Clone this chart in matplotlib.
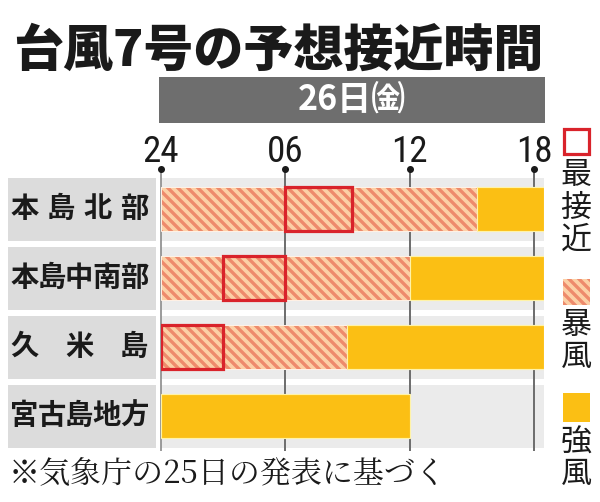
import matplotlib
matplotlib.use('Agg')
import matplotlib.pyplot as plt
from matplotlib.patches import Rectangle
import numpy as np

plt.rcParams['font.family'] = ['Noto Sans CJK JP', 'DejaVu Sans']
plt.rcParams['hatch.linewidth'] = 2.0

# ---- data (hours from 0:00 on the 26th) ----
regions = ['本島北部', '本島中南部', '久米島', '宮古島地方']
storm_end = [15.25, 12.0, 9.0, 0.0]          # 暴風 from 0 to this
strong_end = [18.5, 18.5, 18.5, 12.0]        # 強風 from storm_end to this
closest_start = [6.0, 3.0, 0.0, np.nan]      # 最接近 window
closest_end = [9.2, 6.0, 3.0, np.nan]
tick_hours = [0, 6, 12, 18]
tick_labels = ['24', '06', '12', '18']
x_max = 18.5

title = '台風7号の予想接近時間'
header = '26日㈮'
legend_labels = ['最接近', '暴風', '強風']
note = '※気象庁の25日の発表に基づく'

# ---- colours ----
C_STORM_FACE = '#fcd0a6'
C_STORM_HATCH = '#ee8a6c'
C_STRONG = '#fbbf14'
C_RED = '#d9232b'
C_BAND = '#ebebeb'
C_LABBOX = '#dcdcdc'
C_HEADER = '#6e6e6e'
HATCH = '\\\\\\\\'

W, H, DPI = 600, 502, 120
fig = plt.figure(figsize=(W / DPI, H / DPI), dpi=DPI)
fig.patch.set_facecolor('white')

def fx(px):
    return px / W

def fy(py):
    return 1 - py / H

def pt(px):
    return px * 72 / DPI

# layout
ax_top, ax_bot = 174.5, 450.5
ax_left = 161
px_per_h = 20.72
ax_right = ax_left + x_max * px_per_h

ax = fig.add_axes([fx(ax_left), fy(ax_bot), fx(ax_right) - fx(ax_left), (ax_bot - ax_top) / H])
ax.set_xlim(0, x_max)
ax.set_ylim(3.5, -0.5)
ax.set_facecolor('none')
for s in ax.spines.values():
    s.set_visible(False)

rows = np.arange(len(regions))
band_h = 63 / 69
bar_h = 44 / 69

# background bands
ax.barh(rows, x_max, height=band_h, color=C_BAND, zorder=0)

# grid lines and dots
dot_y = -0.58
ax.vlines(tick_hours[0], dot_y, 3.5, color='#8a8a8a', lw=1.0, zorder=1, clip_on=False)
ax.vlines(tick_hours[1:], dot_y, 3.5, color='#6f6f6f', lw=1.2, zorder=1, clip_on=False)
ax.plot(tick_hours, [dot_y] * len(tick_hours), 'o', ms=3.2, color='#1a1a1a', zorder=3, clip_on=False)

# 暴風 (hatched)
storm_arr = np.array(storm_end)
mask = storm_arr > 0
ax.barh(rows[mask], storm_arr[mask], left=0, height=bar_h, color=C_STORM_FACE,
        edgecolor=C_STORM_HATCH, hatch=HATCH, linewidth=0, zorder=2)
ax.barh(rows[mask], storm_arr[mask], left=0, height=bar_h, fill=False,
        edgecolor='#fff0e4', linewidth=0.6, zorder=2)

# 強風
strong_arr = np.array(strong_end)
ax.barh(rows, strong_arr - storm_arr, left=storm_arr, height=bar_h, color=C_STRONG,
        edgecolor='#fff3a8', linewidth=0.7, zorder=2)

# 最接近
cs = np.array(closest_start)
ce = np.array(closest_end)
m2 = ~np.isnan(cs)
ax.barh(rows[m2], (ce - cs)[m2], left=cs[m2], height=bar_h, fill=False,
        edgecolor=C_RED, linewidth=pt(3.2), zorder=4)

# ticks on top
ax.xaxis.tick_top()
ax.set_xticks(tick_hours, tick_labels)
ax.set_yticks([])
ax.tick_params(axis='x', length=0, pad=pt(5), labelsize=pt(37), labelcolor='#1a1a1a')
for lab in ax.get_xticklabels():
    lab.set_fontfamily(['Roboto Condensed', 'DejaVu Sans'])
    lab.set_fontstretch('condensed')

# ---- row labels ----
ax_l = fig.add_axes([fx(8), fy(ax_bot), fx(156) - fx(8), (ax_bot - ax_top) / H])
ax_l.set_xlim(0, 1)
ax_l.set_ylim(3.5, -0.5)
ax_l.set_axis_off()
ax_l.barh(rows, 1, left=0, height=band_h, color=C_LABBOX, zorder=0)
lab_em = 28.3
for r, name in zip(rows, regions):
    n = len(name)
    centers_px = np.linspace(10 + lab_em / 2, 148 - lab_em / 2, n)
    for ch, cpx in zip(name, centers_px):
        ax_l.text((cpx - 8) / 148, r, ch, ha='center', va='center',
                  fontsize=pt(lab_em), fontweight='bold', color='#1a1a1a')

# ---- title ----
fig.text(fx(13), fy(51), title, ha='left', va='center', fontsize=pt(50),
         fontweight='heavy', color='#1a1a1a')

# ---- header band ----
fig.add_artist(Rectangle((fx(159), fy(123)), fx(545) - fx(159), 46 / H,
                         transform=fig.transFigure, facecolor=C_HEADER, edgecolor='none'))
fig.text(fx(352), fy(100), header, ha='center', va='center', fontsize=pt(34),
         fontweight='bold', color='white')

# ---- legend ----
fig.add_artist(Rectangle((fx(563.5), fy(153.5)), fx(25), 25 / H, transform=fig.transFigure,
                         facecolor='white', edgecolor=C_RED, linewidth=pt(3.2)))
fig.add_artist(Rectangle((fx(563), fy(305)), fx(27), 26 / H, transform=fig.transFigure,
                         facecolor=C_STORM_FACE, edgecolor=C_STORM_HATCH, hatch=HATCH, linewidth=0))
fig.add_artist(Rectangle((fx(563), fy(422)), fx(27), 29 / H, transform=fig.transFigure,
                         facecolor=C_STRONG, edgecolor='none'))
leg_em = 31
leg_char_y = [[176, 208, 240], [326, 357], [443, 474]]
for label, ys in zip(legend_labels, leg_char_y):
    for ch, yy in zip(label, ys):
        fig.text(fx(576), fy(yy), ch, ha='center', va='center', fontsize=pt(leg_em), color='#1a1a1a')

# ---- footnote ----
fig.text(fx(9), fy(474), note, ha='left', va='center', fontsize=pt(31), color='#1a1a1a',
         family=['Noto Serif CJK JP', 'Noto Sans CJK JP', 'DejaVu Sans'])

fig.savefig('out.png', dpi=DPI, facecolor='white')
